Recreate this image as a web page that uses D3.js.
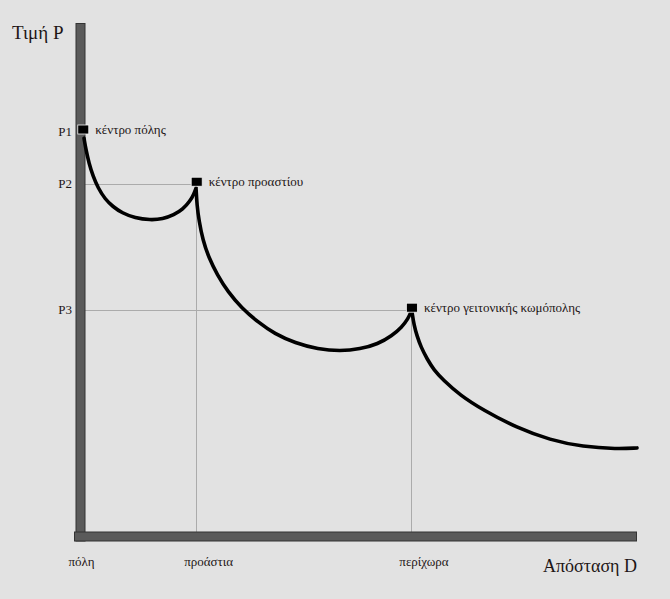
<!DOCTYPE html>
<html>
<head>
<meta charset="utf-8">
<script src="https://cdn.jsdelivr.net/npm/d3@7"></script>
<style>
  html, body { margin: 0; padding: 0; background: #e2e2e2; }
  svg { display: block; }
  text { font-family: "Liberation Serif", "DejaVu Serif", serif; fill: #1e1616; }
</style>
</head>
<body>
<svg id="chart" width="670" height="599"></svg>
<script>
// ---- data (distance D in 0..100, price P in 0..100) ----
const categories = ["πόλη", "προάστια", "περίχωρα"];
const categoryDistances = [0, 20.8, 59.5];

const centerNames = ["κέντρο πόλης", "κέντρο προαστίου", "κέντρο γειτονικής κωμόπολης"];
const centerDistances = [0.5, 20.9, 59.6];
const priceLabels = ["P1", "P2", "P3"];
const priceValues = [79.1, 68.9, 44.3];

const curve1 = [[0.63, 77.8], [0.99, 75.5], [1.53, 72.9], [2.25, 70.4], [3.15, 68.1], [4.41, 65.9],
  [5.85, 64.4], [7.46, 63.2], [9.8, 62.2], [12.5, 61.8], [14.8, 62.0], [16.8, 62.8], [18.4, 63.9],
  [19.7, 65.5], [20.4, 66.9], [20.8, 68.1]];
const curve2 = [[20.8, 67.7], [20.95, 64.7], [21.3, 61.8], [22.0, 57.9], [23.1, 54.4], [24.6, 51.1],
  [26.5, 47.8], [29.0, 44.6], [31.9, 41.9], [34.9, 39.6], [38.6, 37.8], [42.7, 36.6], [46.7, 36.2],
  [50.3, 36.6], [53.5, 37.6], [56.0, 39.2], [57.8, 40.9], [58.9, 42.5], [59.4, 43.8]];
const curve3 = [[59.62, 43.9], [59.98, 41.3], [60.52, 39.2], [61.24, 37.0], [62.32, 34.7], [63.58, 32.5],
  [65.2, 30.6], [68.26, 27.6], [72.39, 24.7], [78.51, 21.2], [84.44, 18.85], [90.38, 17.5],
  [96.49, 17.1], [100.09, 17.3]];

const yAxisTitle = "Τιμή P";
const xAxisTitle = "Απόσταση D";

// ---- scales ----
const svg = d3.select("#chart");
const x = d3.scaleLinear().domain([0, 100]).range([80.5, 636.5]);
const y = d3.scaleLinear().domain([0, 100]).range([536.5, 24.5]);

svg.append("rect").attr("width", 670).attr("height", 599).attr("fill", "#e2e2e2");

// ---- reference lines ----
const refs = svg.append("g").attr("stroke", "#ababab").attr("stroke-width", 1).attr("fill", "none");
[1, 2].forEach(i => {
  refs.append("line")
    .attr("x1", x(0) + 4).attr("x2", x(categoryDistances[i]))
    .attr("y1", Math.round(y(priceValues[i])) + 0.5).attr("y2", Math.round(y(priceValues[i])) + 0.5);
  refs.append("line")
    .attr("x1", Math.round(x(categoryDistances[i])) + 0.5).attr("x2", Math.round(x(categoryDistances[i])) + 0.5)
    .attr("y1", y(priceValues[i])).attr("y2", y(0) - 4);
});

// ---- axes as thick bars ----
const barW = 9;
svg.append("rect")
  .attr("x", x(0) - barW / 2).attr("y", y(100) - 1)
  .attr("width", barW).attr("height", y(0) - y(100) + barW / 2 + 1)
  .attr("fill", "#5a5a5a").attr("stroke", "#333").attr("stroke-width", 1);
svg.append("rect")
  .attr("x", x(0) - barW / 2 - 1.5).attr("y", y(0) - barW / 2)
  .attr("width", x(100) - x(0) + barW / 2 + 1.5).attr("height", barW)
  .attr("fill", "#5a5a5a").attr("stroke", "#333").attr("stroke-width", 1);

// ---- curves ----
const line = d3.line().x(d => x(d[0])).y(d => y(d[1])).curve(d3.curveBasis);
[curve1, curve2, curve3].forEach(c => {
  svg.append("path").datum(c)
    .attr("d", line)
    .attr("fill", "none").attr("stroke", "#000").attr("stroke-width", 3.6)
    .attr("stroke-linecap", "round").attr("stroke-linejoin", "round");
});

// ---- centre markers ----
centerDistances.forEach((d, i) => {
  const cx = x(d), cy = y(priceValues[i]) - 2;
  svg.append("rect")
    .attr("x", cx - 5.5).attr("y", cy - 4.5).attr("width", 11).attr("height", 9)
    .attr("fill", "#000").attr("stroke", "#f4f4f4").attr("stroke-width", 0.8);
  svg.append("text")
    .attr("x", cx + 12).attr("y", cy + 4.5)
    .attr("font-size", 13)
    .text(centerNames[i]);
});

// ---- price labels ----
priceLabels.forEach((p, i) => {
  svg.append("text")
    .attr("x", 72).attr("y", y(priceValues[i]) + 4)
    .attr("text-anchor", "end").attr("font-size", 13)
    .text(p);
});

// ---- category labels ----
categories.forEach((c, i) => {
  svg.append("text")
    .attr("x", x(categoryDistances[i]) - 12).attr("y", 566)
    .attr("font-size", 13)
    .text(c);
});

// ---- titles ----
svg.append("text").attr("x", 12).attr("y", 39).attr("font-size", 19).text(yAxisTitle);
svg.append("text").attr("x", 637).attr("y", 572).attr("text-anchor", "end").attr("font-size", 18).text(xAxisTitle);
</script>
</body>
</html>
